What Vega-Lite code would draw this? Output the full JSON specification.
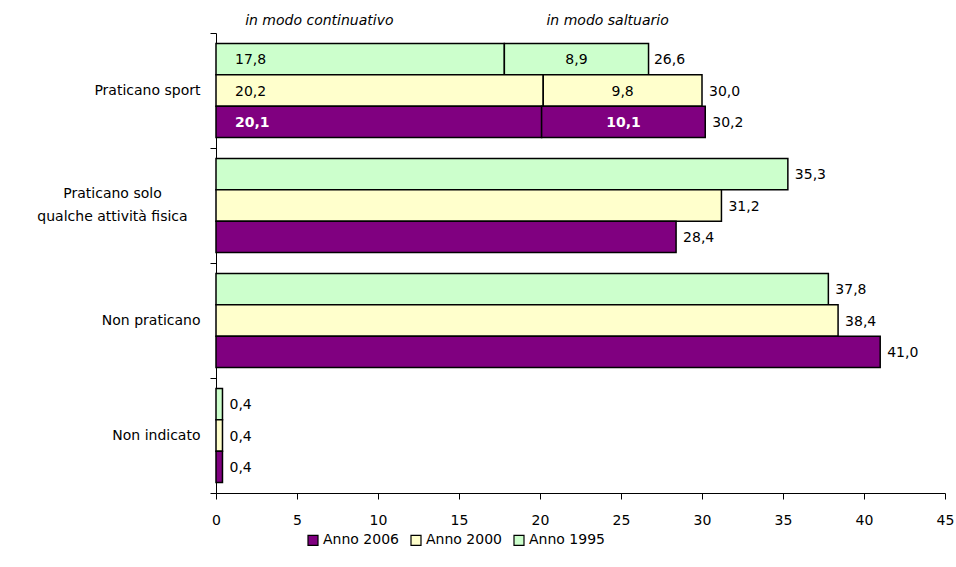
{
  "$schema": "https://vega.github.io/schema/vega-lite/v6.json",
  "width": 729,
  "height": 460,
  "autosize": {"type": "none"},
  "padding": {"left": 216, "top": 33, "right": 11, "bottom": 74},
  "background": "white",
  "config": {
    "view": {"stroke": null},
    "font": "DejaVu Sans",
    "text": {"font": "DejaVu Sans"}
  },
  "datasets": {
    "bars": [
      {"cat": "Praticano sport", "anno": "Anno  1995", "part": "continuativo", "ord": 1, "value": 17.8, "lab": "17,8"},
      {"cat": "Praticano sport", "anno": "Anno  1995", "part": "saltuario", "ord": 2, "value": 8.9, "lab": "8,9"},
      {"cat": "Praticano sport", "anno": "Anno 2000", "part": "continuativo", "ord": 1, "value": 20.2, "lab": "20,2"},
      {"cat": "Praticano sport", "anno": "Anno 2000", "part": "saltuario", "ord": 2, "value": 9.8, "lab": "9,8"},
      {"cat": "Praticano sport", "anno": "Anno 2006", "part": "continuativo", "ord": 1, "value": 20.1, "lab": "20,1"},
      {"cat": "Praticano sport", "anno": "Anno 2006", "part": "saltuario", "ord": 2, "value": 10.1, "lab": "10,1"},
      {"cat": "Praticano solo qualche attività fisica", "anno": "Anno  1995", "part": "totale", "ord": 1, "value": 35.3, "lab": "35,3"},
      {"cat": "Praticano solo qualche attività fisica", "anno": "Anno 2000", "part": "totale", "ord": 1, "value": 31.2, "lab": "31,2"},
      {"cat": "Praticano solo qualche attività fisica", "anno": "Anno 2006", "part": "totale", "ord": 1, "value": 28.4, "lab": "28,4"},
      {"cat": "Non praticano", "anno": "Anno  1995", "part": "totale", "ord": 1, "value": 37.8, "lab": "37,8"},
      {"cat": "Non praticano", "anno": "Anno 2000", "part": "totale", "ord": 1, "value": 38.4, "lab": "38,4"},
      {"cat": "Non praticano", "anno": "Anno 2006", "part": "totale", "ord": 1, "value": 41.0, "lab": "41,0"},
      {"cat": "Non indicato", "anno": "Anno  1995", "part": "totale", "ord": 1, "value": 0.4, "lab": "0,4"},
      {"cat": "Non indicato", "anno": "Anno 2000", "part": "totale", "ord": 1, "value": 0.4, "lab": "0,4"},
      {"cat": "Non indicato", "anno": "Anno 2006", "part": "totale", "ord": 1, "value": 0.4, "lab": "0,4"}
    ],
    "totals": [
      {"cat": "Praticano sport", "anno": "Anno  1995", "value": 26.6, "lab": "26,6"},
      {"cat": "Praticano sport", "anno": "Anno 2000", "value": 30.0, "lab": "30,0"},
      {"cat": "Praticano sport", "anno": "Anno 2006", "value": 30.2, "lab": "30,2"},
      {"cat": "Praticano solo qualche attività fisica", "anno": "Anno  1995", "value": 35.3, "lab": "35,3"},
      {"cat": "Praticano solo qualche attività fisica", "anno": "Anno 2000", "value": 31.2, "lab": "31,2"},
      {"cat": "Praticano solo qualche attività fisica", "anno": "Anno 2006", "value": 28.4, "lab": "28,4"},
      {"cat": "Non praticano", "anno": "Anno  1995", "value": 37.8, "lab": "37,8"},
      {"cat": "Non praticano", "anno": "Anno 2000", "value": 38.4, "lab": "38,4"},
      {"cat": "Non praticano", "anno": "Anno 2006", "value": 41.0, "lab": "41,0"},
      {"cat": "Non indicato", "anno": "Anno  1995", "value": 0.4, "lab": "0,4"},
      {"cat": "Non indicato", "anno": "Anno 2000", "value": 0.4, "lab": "0,4"},
      {"cat": "Non indicato", "anno": "Anno 2006", "value": 0.4, "lab": "0,4"}
    ],
    "notes": [
      {"cat": "Praticano sport", "value": 1.8, "t": "in modo continuativo"},
      {"cat": "Praticano sport", "value": 20.4, "t": "in modo saltuario"}
    ]
  },
  "encoding": {
    "y": {
      "field": "cat",
      "type": "nominal",
      "sort": ["Praticano sport", "Praticano solo qualche attività fisica", "Non praticano", "Non indicato"],
      "scale": {"paddingInner": 0, "paddingOuter": 0},
      "axis": {
        "title": null,
        "tickBand": "extent",
        "domainColor": "black",
        "tickColor": "black",
        "tickSize": 6,
        "labelFontSize": 14,
        "labelColor": "black",
        "labelLimit": 400,
        "labelLineHeight": 23,
        "labelAlign": {"condition": {"test": "datum.value == 'Praticano solo qualche attività fisica'", "value": "center"}, "value": "right"},
        "labelPadding": {"condition": {"test": "datum.value == 'Praticano solo qualche attività fisica'", "value": 98}, "value": 10},
        "labelOffset": {"condition": {"test": "datum.value == 'Praticano solo qualche attività fisica'", "value": -12}, "value": 0},
        "labelExpr": "datum.value == 'Praticano solo qualche attività fisica' ? ['Praticano solo', 'qualche attività fisica'] : datum.value"
      }
    }
  },
  "layer": [
    {
      "data": {"name": "bars"},
      "mark": {"type": "bar", "stroke": "black", "strokeWidth": 1.5},
      "encoding": {
        "x": {
          "field": "value",
          "type": "quantitative",
          "stack": "zero",
          "scale": {"domain": [0, 45], "nice": false},
          "axis": {
            "title": null,
            "values": [0, 5, 10, 15, 20, 25, 30, 35, 40, 45],
            "grid": false,
            "domainColor": "black",
            "tickColor": "black",
            "tickSize": 6,
            "labelFontSize": 14,
            "labelColor": "black",
            "labelPadding": 14,
            "labelFlush": false
          }
        },
        "yOffset": {
          "field": "anno",
          "type": "nominal",
          "sort": ["Anno  1995", "Anno 2000", "Anno 2006"],
          "scale": {"paddingInner": 0, "paddingOuter": 0.335}
        },
        "order": {"field": "ord", "type": "quantitative"},
        "color": {
          "field": "anno",
          "type": "nominal",
          "scale": {
            "domain": ["Anno 2006", "Anno 2000", "Anno  1995"],
            "range": ["#800080", "#FFFFCC", "#CCFFCC"]
          },
          "legend": {
            "title": null,
            "orient": "none",
            "direction": "horizontal",
            "legendX": 90,
            "legendY": 500,
            "symbolType": "square",
            "symbolSize": 100,
            "symbolStrokeColor": "black",
            "symbolStrokeWidth": 1.2,
            "labelFontSize": 14,
            "labelColor": "black",
            "labelOffset": 3,
            "columnPadding": 9,
            "labelLimit": 200
          }
        }
      }
    },
    {
      "data": {"name": "bars"},
      "transform": [{"filter": "datum.cat == 'Praticano sport' && datum.part == 'continuativo' && datum.anno != 'Anno 2006'"}],
      "mark": {"type": "text", "align": "left", "baseline": "middle", "dx": 19, "dy": 1, "fontSize": 14, "color": "black"},
      "encoding": {
        "x": {"datum": 0, "type": "quantitative"},
        "yOffset": {"field": "anno", "type": "nominal", "sort": ["Anno  1995", "Anno 2000", "Anno 2006"]},
        "text": {"field": "lab"}
      }
    },
    {
      "data": {"name": "bars"},
      "transform": [{"filter": "datum.cat == 'Praticano sport' && datum.part == 'continuativo' && datum.anno == 'Anno 2006'"}],
      "mark": {"type": "text", "align": "left", "baseline": "middle", "dx": 19, "dy": 1, "fontSize": 14, "fontWeight": "bold", "color": "white"},
      "encoding": {
        "x": {"datum": 0, "type": "quantitative"},
        "yOffset": {"field": "anno", "type": "nominal", "sort": ["Anno  1995", "Anno 2000", "Anno 2006"]},
        "text": {"field": "lab"}
      }
    },
    {
      "data": {"name": "bars"},
      "transform": [{"filter": "datum.cat == 'Praticano sport' && datum.anno != 'Anno 2006'"}],
      "mark": {"type": "text", "align": "center", "baseline": "middle", "dy": 1, "fontSize": 14, "color": "black"},
      "encoding": {
        "x": {"field": "value", "type": "quantitative", "stack": "zero", "bandPosition": 0.5, "title": null},
        "yOffset": {"field": "anno", "type": "nominal", "sort": ["Anno  1995", "Anno 2000", "Anno 2006"]},
        "order": {"field": "ord", "type": "quantitative"},
        "detail": {"field": "part"},
        "text": {"condition": {"test": "datum.part == 'saltuario'", "field": "lab"}, "value": ""}
      }
    },
    {
      "data": {"name": "bars"},
      "transform": [{"filter": "datum.cat == 'Praticano sport' && datum.anno == 'Anno 2006'"}],
      "mark": {"type": "text", "align": "center", "baseline": "middle", "dy": 1, "fontSize": 14, "fontWeight": "bold", "color": "white"},
      "encoding": {
        "x": {"field": "value", "type": "quantitative", "stack": "zero", "bandPosition": 0.5, "title": null},
        "yOffset": {"field": "anno", "type": "nominal", "sort": ["Anno  1995", "Anno 2000", "Anno 2006"]},
        "order": {"field": "ord", "type": "quantitative"},
        "detail": {"field": "part"},
        "text": {"condition": {"test": "datum.part == 'saltuario'", "field": "lab"}, "value": ""}
      }
    },
    {
      "data": {"name": "totals"},
      "mark": {"type": "text", "align": "left", "baseline": "middle", "dx": 7, "dy": 1, "fontSize": 14, "color": "black"},
      "encoding": {
        "x": {"field": "value", "type": "quantitative", "title": null},
        "yOffset": {"field": "anno", "type": "nominal", "sort": ["Anno  1995", "Anno 2000", "Anno 2006"]},
        "text": {"field": "lab"}
      }
    },
    {
      "data": {"name": "notes"},
      "mark": {"type": "text", "align": "left", "baseline": "middle", "dy": -70, "fontSize": 14, "fontStyle": "italic", "color": "black"},
      "encoding": {
        "x": {"field": "value", "type": "quantitative", "title": null},
        "text": {"field": "t"}
      }
    }
  ]
}
